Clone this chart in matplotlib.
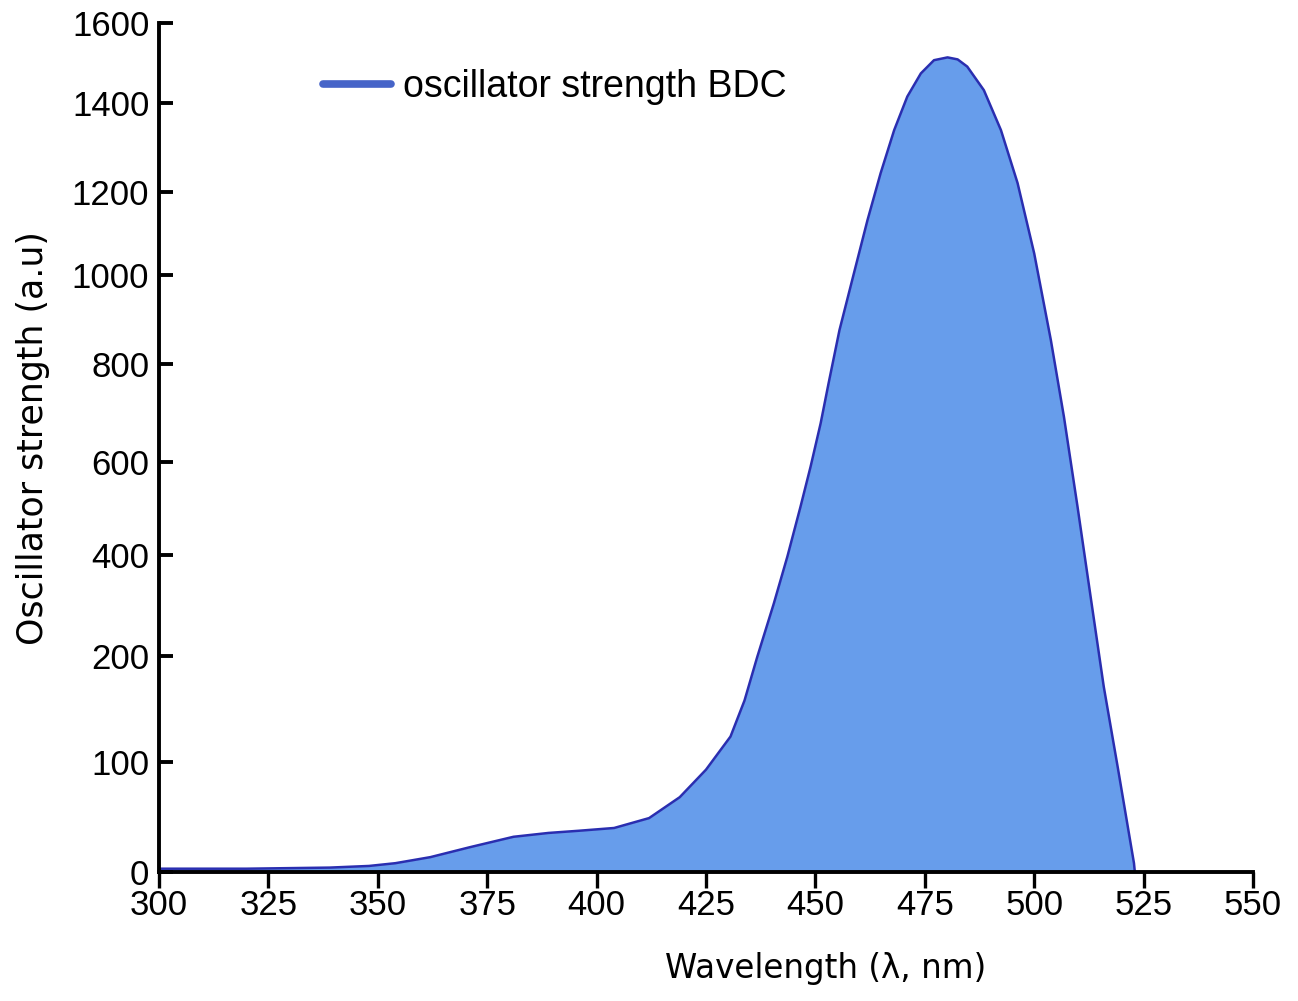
import numpy as np
import matplotlib
matplotlib.use("Agg")
import matplotlib.pyplot as plt
from matplotlib.lines import Line2D

wavelength = [300, 320, 339, 348, 354, 362, 371, 381, 389, 396, 404, 412, 419, 425,
              430.6, 433.8, 436.7, 440.5, 443.6, 446.6, 448.9, 451.2, 453.0, 455.5,
              458.8, 461.9, 464.9, 468.0, 471.0, 474.1, 477.1, 480.2, 482.5, 484.7,
              488.5, 492.4, 496.2, 500.0, 503.8, 506.8, 509.9, 513.0, 515.9, 519.1,
              522.8, 523.0]
strength = [3, 3, 4, 5.5, 8, 13.5, 22.5, 32, 35.5, 37.5, 40, 49, 68, 93,
            124, 158, 199, 304, 397, 504, 590, 679, 760, 876,
            1004, 1132, 1242, 1339, 1416, 1474, 1507, 1514, 1509, 1491,
            1432, 1339, 1220, 1052, 854, 692, 504, 311, 171, 95,
            8, 0]

x_ticks = [300, 325, 350, 375, 400, 425, 450, 475, 500, 525, 550]
y_ticks = [0, 100, 200, 400, 600, 800, 1000, 1200, 1400, 1600]
# the y axis of the original is not linear: where each tick sits along the axis (0..1)
y_scale_pos = [0, 0.1296, 0.2544, 0.3734, 0.4829, 0.5984, 0.7032, 0.8010, 0.9058, 1.0]

legend_label = "oscillator strength BDC"


def forward(v):
    return np.interp(v, y_ticks, y_scale_pos)


def inverse(u):
    return np.interp(u, y_scale_pos, y_ticks)


fig = plt.figure(figsize=(12.98, 10.01), dpi=100)
ax = fig.add_axes([159 / 1298, 1 - 872 / 1001, 1094 / 1298, 849 / 1001])

ax.set_yscale("function", functions=(forward, inverse))
ax.set_xlim(300, 550)
ax.set_ylim(0, 1600)

ax.fill_between(wavelength, 0, strength, color="#679deb", lw=0, zorder=1)
ax.plot(wavelength, strength, color="#2a2eb0", lw=1.8, zorder=2,
        solid_joinstyle="round")

ax.set_xticks(x_ticks)
ax.set_yticks(y_ticks)
ax.set_xticklabels([str(t) for t in x_ticks], family="Liberation Sans", fontsize=25)
ax.set_yticklabels([str(t) for t in y_ticks], family="Liberation Sans", fontsize=25)
ax.minorticks_off()

for s in ["top", "right"]:
    ax.spines[s].set_visible(False)
for s in ["left", "bottom"]:
    ax.spines[s].set_linewidth(2.8)
    ax.spines[s].set_zorder(3)

ax.tick_params(axis="y", direction="in", length=10, width=2.8, pad=7, colors="black")
ax.tick_params(axis="x", direction="out", length=11.5, width=2.4, pad=1, colors="black")

ax.set_xlabel("Wavelength (\u03bb, nm)", family="DejaVu Sans", fontsize=23.5)
ax.set_ylabel("Oscillator strength (a.u)", family="DejaVu Sans", fontsize=25)
ax.xaxis.set_label_coords(0.6097, -0.094)
ax.yaxis.set_label_coords(-0.0996, 0.5106)

handle = Line2D([], [], color="#4664c8", lw=5.5, solid_capstyle="round")
ax.legend([handle], [legend_label], loc="center left",
          bbox_to_anchor=(0.150, 0.9246), frameon=False,
          prop={"family": "Liberation Sans", "size": 27},
          handlelength=1.8, handletextpad=0.33, borderpad=0, borderaxespad=0)

fig.savefig("out.png", dpi=100, facecolor="white")
